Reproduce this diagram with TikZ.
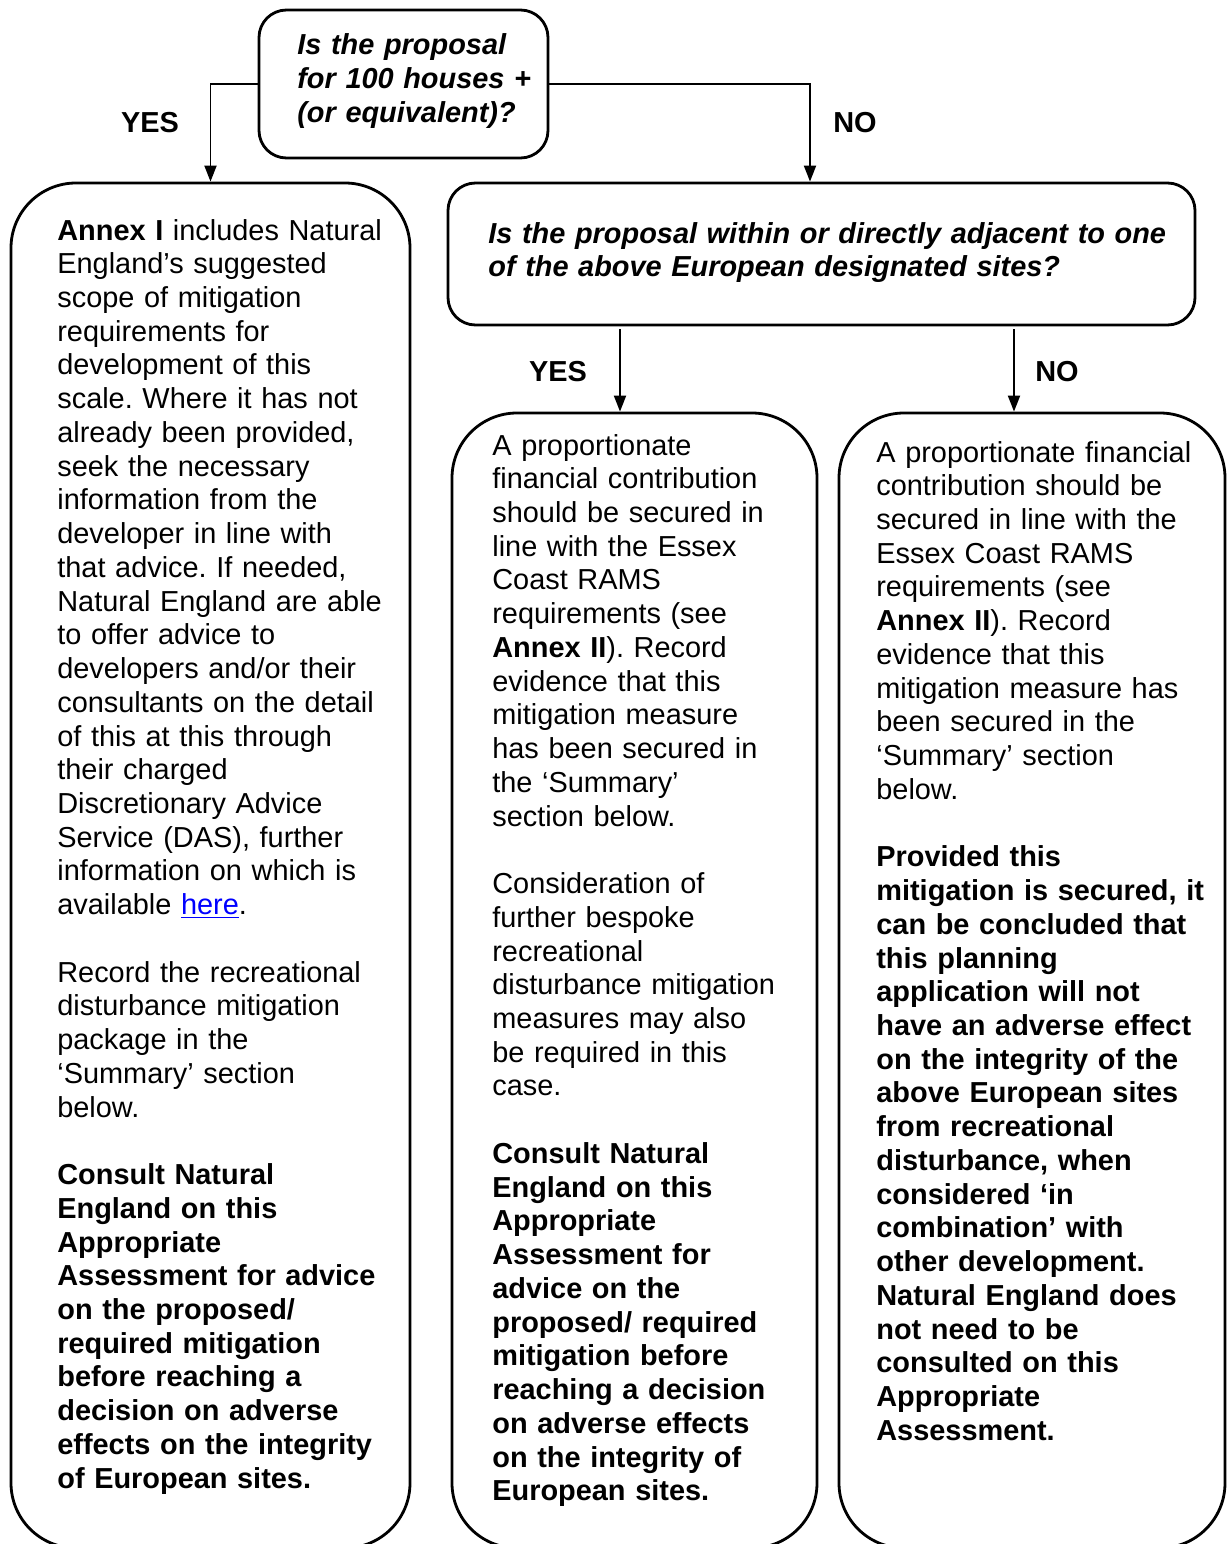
\documentclass[tikz,border=0pt]{standalone}
\usepackage{fontspec}
\setmainfont{Liberation Sans}
\usetikzlibrary{arrows.meta,fit,positioning}
\definecolor{linkblue}{RGB}{0,0,255}
\frenchspacing
\newcommand{\bodysize}{\fontsize{16.45}{19.2}\selectfont}
\newcommand{\gap}{\\[19.2pt]}
\tikzset{
  qbox/.style={draw, line width=1.6pt, rounded corners=0.55cm, inner sep=0pt},
  tallbox/.style={draw, line width=1.6pt, rounded corners=1.3cm, inner sep=0pt},
  bodytext/.style={inner sep=0pt, text width=7.4cm, align=left, anchor=base west, font=\bodysize},
  qtext/.style={bodytext, font=\bodysize\bfseries\itshape},
  answer/.style={inner sep=0pt, font=\bodysize\bfseries},
  arrow/.style={line width=1.1pt, -{Triangle[length=0.32cm,width=0.24cm]}}
}

\begin{document}
\begin{tikzpicture}[x=0.02cm, y=-0.02cm]
  \useasboundingbox (0,0) rectangle (1227,1544);

    % question boxes
    \node[qbox, fit={(259,10) (548,158)}] (q1) {};
    \node[qtext] (q1txt) at (297,55) {Is the proposal\\for 100 houses +\\(or equivalent)?};
    \node[qbox, fit={(448,183) (1195,325)}] (q2) {};
    \node[qtext, text width=14.5cm] (q2txt) at (488,243) {Is the proposal within or directly adjacent to one\\of the above European designated sites?};

    % outcome boxes
    \node[tallbox, fit={(11,183) (410,1548)}] (annex) {};
    \node[tallbox, fit={(452,413) (817,1548)}] (rams) {};
    \node[tallbox, fit={(839,413) (1225,1548)}] (ramsonly) {};

    \node[bodytext] (annextxt) at (57,240) {\textbf{Annex I} includes Natural\\
      England’s suggested\\scope of mitigation\\requirements for\\development of this\\
      scale. Where it has not\\already been provided,\\seek the necessary\\
      information from the\\developer in line with\\that advice. If needed,\\
      Natural England are able\\to offer advice to\\developers and/or their\\
      consultants on the detail\\of this at this through\\their charged\\
      Discretionary Advice\\Service (DAS), further\\information on which is\\
      available {\color{linkblue}\underline{here}}.\gap
      Record the recreational\\disturbance mitigation\\package in the\\
      ‘Summary’ section\\below.\gap
      \textbf{Consult Natural}\\\textbf{England on this}\\\textbf{Appropriate}\\
      \textbf{Assessment for advice}\\\textbf{on the proposed/}\\
      \textbf{required mitigation}\\\textbf{before reaching a}\\
      \textbf{decision on adverse}\\\textbf{effects on the integrity}\\
      \textbf{of European sites.}};

    \node[bodytext] (ramstxt) at (492,455) {A proportionate\\financial contribution\\
      should be secured in\\line with the Essex\\Coast RAMS\\requirements (see\\
      \textbf{Annex II}). Record\\evidence that this\\mitigation measure\\
      has been secured in\\the ‘Summary’\\section below.\gap
      Consideration of\\further bespoke\\recreational\\disturbance mitigation\\
      measures may also\\be required in this\\case.\gap
      \textbf{Consult Natural}\\\textbf{England on this}\\\textbf{Appropriate}\\
      \textbf{Assessment for}\\\textbf{advice on the}\\\textbf{proposed/ required}\\
      \textbf{mitigation before}\\\textbf{reaching a decision}\\
      \textbf{on adverse effects}\\\textbf{on the integrity of}\\
      \textbf{European sites.}};

    \node[bodytext] (ramsonlytxt) at (876,462) {A proportionate financial\\
      contribution should be\\secured in line with the\\Essex Coast RAMS\\
      requirements (see\\\textbf{Annex II}). Record\\evidence that this\\
      mitigation measure has\\been secured in the\\‘Summary’ section\\below.\gap
      \textbf{Provided this}\\\textbf{mitigation is secured, it}\\
      \textbf{can be concluded that}\\\textbf{this planning}\\
      \textbf{application will not}\\\textbf{have an adverse effect}\\
      \textbf{on the integrity of the}\\\textbf{above European sites}\\
      \textbf{from recreational}\\\textbf{disturbance, when}\\
      \textbf{considered ‘in}\\\textbf{combination’ with}\\
      \textbf{other development.}\\\textbf{Natural England does}\\
      \textbf{not need to be}\\\textbf{consulted on this}\\
      \textbf{Appropriate}\\\textbf{Assessment.}};

    % yes / no branches
    \coordinate (no1) at (810,0);
    \coordinate (yes2) at (620,0);
    \coordinate (no2) at (1014,0);
    \draw[arrow] (q1.west) -| (annex.north);
    \draw[arrow] (q1.east) -| (q2.north -| no1);
    \draw[arrow] ([yshift=-0.06cm]q2.south -| yes2) -- (rams.north -| yes2);
    \draw[arrow] ([yshift=-0.06cm]q2.south -| no2) -- (ramsonly.north -| no2);

    \node[answer] (yes1lbl) at (150,123) {YES};
    \node[answer] (no1lbl) at (855,123) {NO};
    \node[answer] (yes2lbl) at (558,372) {YES};
    \node[answer] (no2lbl) at (1057,372) {NO};
\end{tikzpicture}
\end{document}
